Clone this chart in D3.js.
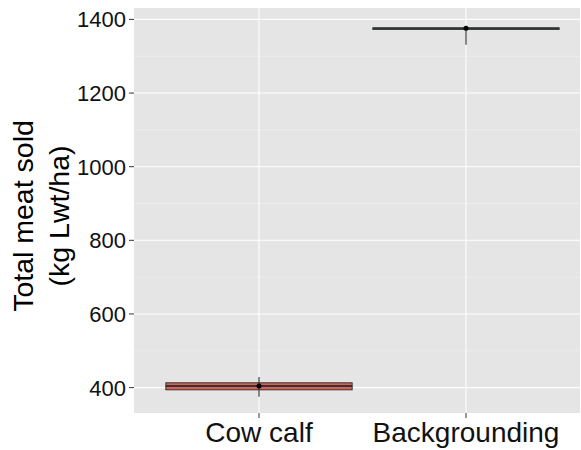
<!DOCTYPE html>
<html>
<head>
<meta charset="utf-8">
<script src="https://cdn.jsdelivr.net/npm/d3@7"></script>
<style>
  body { margin: 0; background: #fff; }
  text { font-family: "Liberation Sans", Arial, sans-serif; }
</style>
</head>
<body>
<div id="chart"></div>
<script>
const categories = ["Cow calf", "Backgrounding"];
const q1 = [394, 1373];
const median = [404, 1375];
const q3 = [413, 1377];
const whiskerLow = [375, 1331];
const whiskerHigh = [429, 1380];
const means = [404, 1376];
const boxFills = ["#DB5F57", "#00BFC4"];
const yTicks = [400, 600, 800, 1000, 1200, 1400];
const yMinor = [500, 700, 900, 1100, 1300];

const width = 581;
const height = 450;
const panel = { left: 134, right: 580, top: 8, bottom: 413 };

const svg = d3.select("#chart")
    .append("svg")
    .attr("width", width)
    .attr("height", height);

// x positions follow ggplot's discrete expansion (plot is cropped on the right)
const xScale = d3.scalePoint()
    .domain(categories)
    .range([259, 466]);
const step = xScale.step();
const boxWidth = step * 0.9;

const yScale = d3.scaleLinear()
    .domain([331, 1431])
    .range([panel.bottom, panel.top]);

// panel background
svg.append("rect")
    .attr("x", panel.left)
    .attr("y", panel.top)
    .attr("width", panel.right - panel.left)
    .attr("height", panel.bottom - panel.top)
    .attr("fill", "#E5E5E5");

// grid
svg.selectAll(".minor")
    .data(yMinor)
    .join("line")
    .attr("x1", panel.left).attr("x2", panel.right)
    .attr("y1", d => yScale(d)).attr("y2", d => yScale(d))
    .attr("stroke", "#F2F2F2")
    .attr("stroke-width", 0.6);

svg.selectAll(".major")
    .data(yTicks)
    .join("line")
    .attr("x1", panel.left).attr("x2", panel.right)
    .attr("y1", d => yScale(d)).attr("y2", d => yScale(d))
    .attr("stroke", "#fff")
    .attr("stroke-width", 1.1);

svg.selectAll(".vgrid")
    .data(categories)
    .join("line")
    .attr("x1", d => xScale(d)).attr("x2", d => xScale(d))
    .attr("y1", panel.top).attr("y2", panel.bottom)
    .attr("stroke", "#fff")
    .attr("stroke-width", 1.1);

// boxes
const g = svg.append("g");
categories.forEach((c, i) => {
    const cx = xScale(c);
    g.append("rect")
        .attr("x", cx - boxWidth / 2)
        .attr("y", yScale(q3[i]))
        .attr("width", boxWidth)
        .attr("height", Math.max(0, yScale(q1[i]) - yScale(q3[i])))
        .attr("fill", boxFills[i])
        .attr("stroke", "#333")
        .attr("stroke-width", 1);
    g.append("line")
        .attr("x1", cx - boxWidth / 2).attr("x2", cx + boxWidth / 2)
        .attr("y1", yScale(median[i])).attr("y2", yScale(median[i]))
        .attr("stroke", "#333")
        .attr("stroke-width", 2);
    // range line
    g.append("line")
        .attr("x1", cx).attr("x2", cx)
        .attr("y1", yScale(whiskerHigh[i])).attr("y2", yScale(whiskerLow[i]))
        .attr("stroke", "#333")
        .attr("stroke-opacity", 0.75)
        .attr("stroke-width", 1.5);
    g.append("circle")
        .attr("cx", cx)
        .attr("cy", yScale(means[i]))
        .attr("r", 2.5)
        .attr("fill", "#000");
});

// y axis
const yAxis = svg.append("g");
yAxis.selectAll("line")
    .data(yTicks)
    .join("line")
    .attr("x1", panel.left - 5).attr("x2", panel.left)
    .attr("y1", d => yScale(d)).attr("y2", d => yScale(d))
    .attr("stroke", "#333")
    .attr("stroke-width", 1);
yAxis.selectAll("text")
    .data(yTicks)
    .join("text")
    .attr("x", panel.left - 8)
    .attr("y", d => yScale(d))
    .attr("dy", "0.36em")
    .attr("text-anchor", "end")
    .attr("font-size", 22)
    .attr("fill", "#111")
    .text(d => d);

// x axis
const xAxis = svg.append("g");
xAxis.selectAll("line")
    .data(categories)
    .join("line")
    .attr("x1", d => xScale(d)).attr("x2", d => xScale(d))
    .attr("y1", panel.bottom).attr("y2", panel.bottom + 5)
    .attr("stroke", "#333")
    .attr("stroke-width", 1);
xAxis.selectAll("text")
    .data(categories)
    .join("text")
    .attr("x", d => xScale(d))
    .attr("y", 442)
    .attr("text-anchor", "middle")
    .attr("font-size", 28)
    .attr("fill", "#111")
    .text(d => d);

// y title
const title = svg.append("text")
    .attr("transform", "translate(0,216) rotate(-90)")
    .attr("text-anchor", "middle")
    .attr("font-size", 28.5)
    .attr("fill", "#000");
title.append("tspan").attr("x", 0).attr("y", 33).text("Total meat sold");
title.append("tspan").attr("x", 0).attr("y", 69).text("(kg Lwt/ha)");
</script>
</body>
</html>
